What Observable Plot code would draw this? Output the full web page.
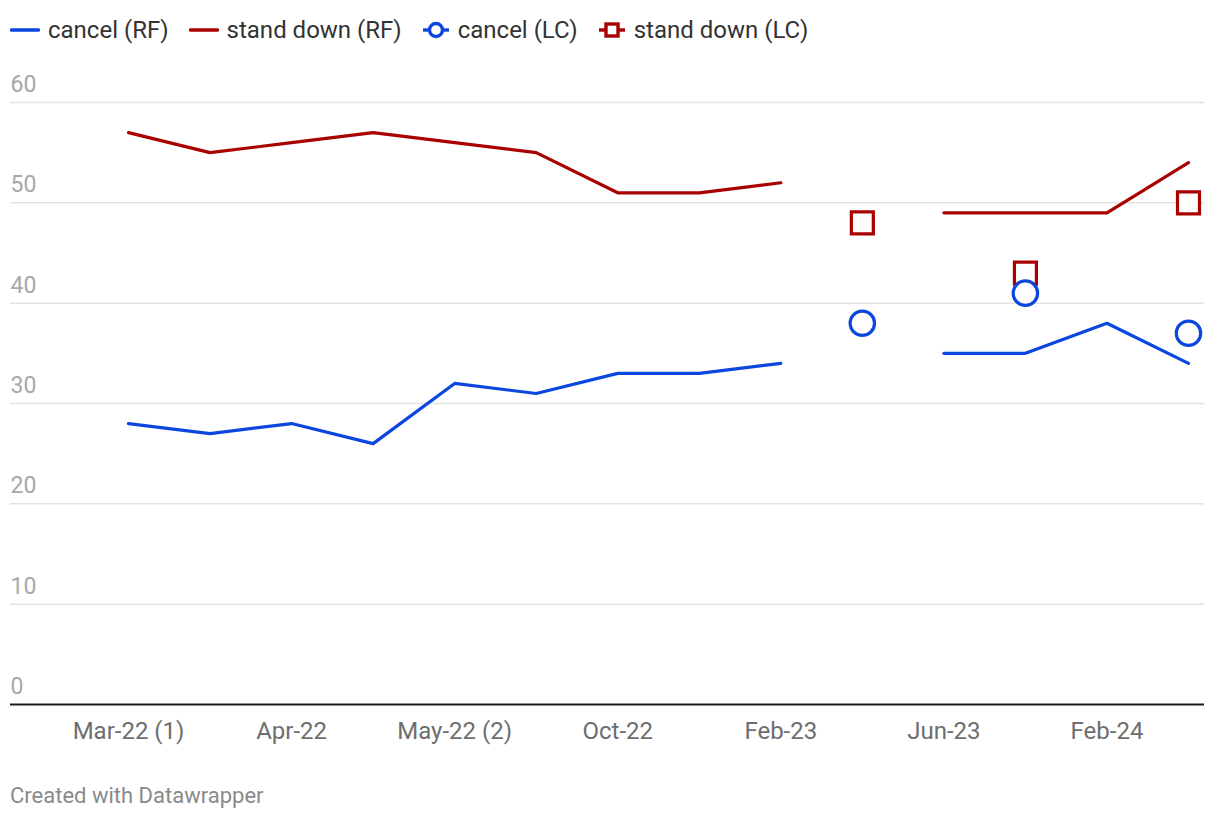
<!DOCTYPE html>
<html>
<head>
<meta charset="utf-8">
<script src="https://cdn.jsdelivr.net/npm/d3@7"></script>
<script src="https://cdn.jsdelivr.net/npm/@observablehq/plot@0.6"></script>
<style>
  html, body { margin: 0; padding: 0; background: #fff; }
  body { font-family: Roboto, sans-serif; width: 1220px; height: 820px; position: relative; overflow: hidden; }
  #legend { position: absolute; left: 10px; top: 14px; height: 32px; display: flex; align-items: center; font-size: 24px; color: #333; }
  .item { display: flex; align-items: center; margin-right: 20px; }
  .item svg { margin-right: 8px; }
  #chart { position: absolute; left: 0; top: 60px; }
  #footer { position: absolute; left: 10px; top: 783px; font-size: 22px; color: #8a8a8a; }
</style>
</head>
<body>
<div id="legend"></div>
<div id="chart"></div>
<div id="footer">Created with Datawrapper</div>
<script>
const categories = ["Mar-22 (1)", "Mar-22 (2)", "Apr-22", "May-22 (1)", "May-22 (2)", "Jul-22", "Oct-22", "Dec-22", "Feb-23", "Mar-23", "Jun-23", "Oct-23", "Feb-24", "May-24"];
const xTickLabels = ["Mar-22 (1)", "Apr-22", "May-22 (2)", "Oct-22", "Feb-23", "Jun-23", "Feb-24"];
const cancelRF    = [28, 27, 28, 26, 32, 31, 33, 33, 34, null, 35, 35, 38, 34];
const standDownRF = [57, 55, 56, 57, 56, 55, 51, 51, 52, null, 49, 49, 49, 54];
const cancelLC    = [null, null, null, null, null, null, null, null, null, 38, null, 41, null, 37];
const standDownLC = [null, null, null, null, null, null, null, null, null, 48, null, 43, null, 50];
const yTicks = [0, 10, 20, 30, 40, 50, 60];
const seriesNames = ["cancel (RF)", "stand down (RF)", "cancel (LC)", "stand down (LC)"];
const blue = "#0b46df";
const red = "#a90000";

const rows = (vals) => categories.map((c, i) => ({cat: c, v: vals[i]}));
const lcRows = (vals) => rows(vals).filter(d => d.v != null);

// legend
const legend = document.getElementById("legend");
const swatches = [
  `<svg width="30" height="14"><line x1="1.5" x2="28.5" y1="7" y2="7" stroke="${blue}" stroke-width="3.4" stroke-linecap="round"/></svg>`,
  `<svg width="30" height="14"><line x1="1.5" x2="28.5" y1="7" y2="7" stroke="${red}" stroke-width="3.4" stroke-linecap="round"/></svg>`,
  `<svg width="28" height="20"><line x1="1" x2="27" y1="10" y2="10" stroke="${blue}" stroke-width="3.4"/><circle cx="14" cy="10" r="6.5" fill="#fff" stroke="${blue}" stroke-width="3.4"/></svg>`,
  `<svg width="28" height="20"><line x1="1" x2="27" y1="10" y2="10" stroke="${red}" stroke-width="3.4"/><rect x="8" y="4" width="12" height="12" fill="#fff" stroke="${red}" stroke-width="3.4"/></svg>`
];
seriesNames.forEach((n, i) => {
  const el = document.createElement("div");
  el.className = "item";
  el.innerHTML = swatches[i] + `<span>${n}</span>`;
  legend.appendChild(el);
});

const chart = Plot.plot({
  width: 1220,
  height: 700,
  marginLeft: 10,
  marginRight: 16,
  marginTop: 42,
  marginBottom: 56,
  style: {fontFamily: "Roboto, sans-serif", background: "#fff", overflow: "visible"},
  x: {type: "point", domain: categories, range: [128, 1188], padding: 0, round: false, axis: null},
  y: {domain: [0, 60], axis: null},
  marks: [
    Plot.ruleY(yTicks.filter(d => d > 0), {stroke: "#e3e3e3", strokeWidth: 1.5}),
    Plot.text(yTicks, {y: d => d, text: d => String(d), frameAnchor: "left", textAnchor: "start", dy: -18, fontSize: 23, fill: "#a8a8a8"}),
    Plot.axisX({ticks: xTickLabels, tickSize: 0, tickPadding: 17, fontSize: 24, fill: "#6e6e6e", label: null}),
    Plot.line(rows(cancelRF), {x: "cat", y: "v", stroke: blue, strokeWidth: 3.2}),
    Plot.line(rows(standDownRF), {x: "cat", y: "v", stroke: red, strokeWidth: 3.2}),
    Plot.dot(lcRows(standDownLC), {x: "cat", y: "v", symbol: "square", r: 12.4, stroke: red, strokeWidth: 3.2, fill: "#fff"}),
    Plot.dot(lcRows(cancelLC), {x: "cat", y: "v", symbol: "circle", r: 12.2, stroke: blue, strokeWidth: 3.2, fill: "#fff"}),
    Plot.ruleY([0], {stroke: "#1a1a1a", strokeWidth: 2})
  ]
});
document.getElementById("chart").appendChild(chart);
</script>
</body>
</html>
